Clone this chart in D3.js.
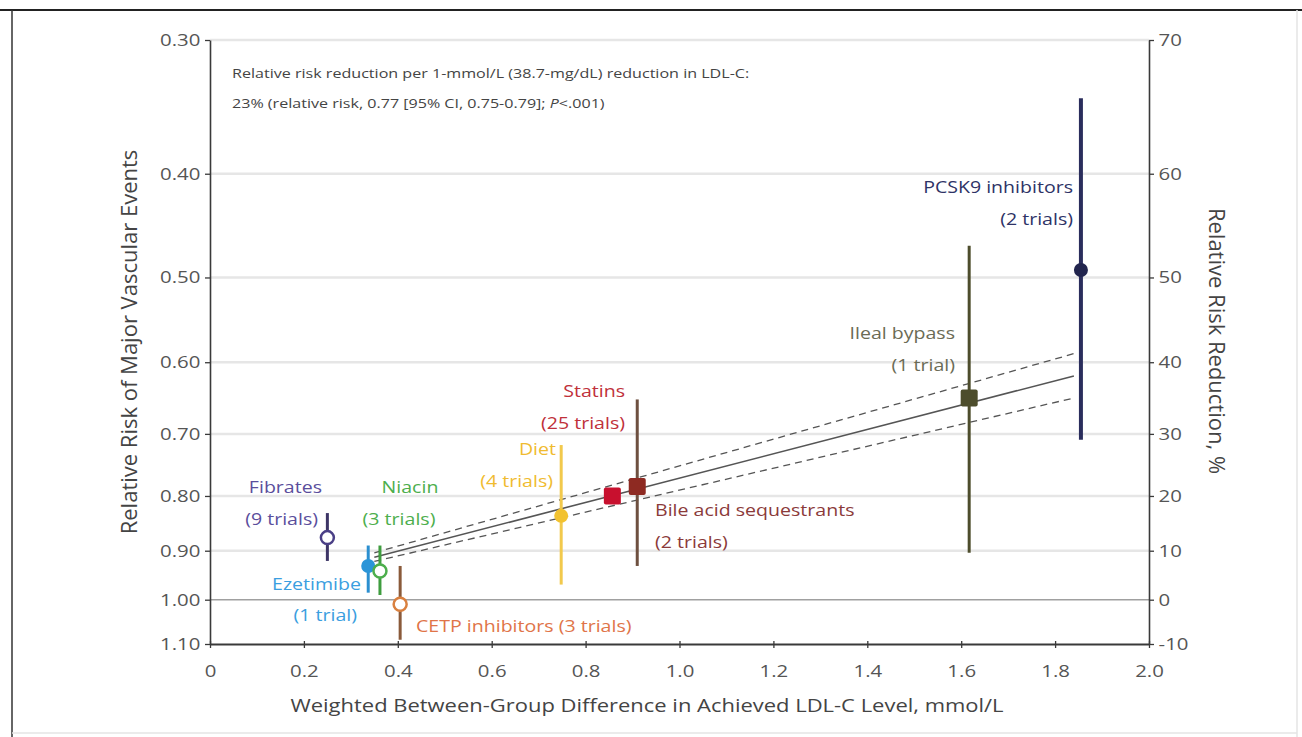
<!DOCTYPE html>
<html><head><meta charset="utf-8">
<script src="https://cdn.jsdelivr.net/npm/d3@7"></script>
<style>
html,body{margin:0;padding:0;background:#fff;}
svg{display:block;font-family:"Open Sans","DejaVu Sans",sans-serif;}
</style></head>
<body>
<svg id="c" width="1302" height="737"></svg>
<script>
// ---- data ----
const groups = ["Fibrates","Ezetimibe","Niacin","CETP inhibitors","Diet","Statins","Bile acid sequestrants","Ileal bypass","PCSK9 inhibitors"];
const ldlDiff = [0.25, 0.337, 0.362, 0.405, 0.748, 0.857, 0.91, 1.617, 1.855];
const rr      = [0.875, 0.93, 0.94, 1.01, 0.835, 0.80, 0.784, 0.648, 0.492];
const rrLow   = [0.83, 0.89, 0.89, 0.93, 0.717, 0.79, 0.65, 0.467, 0.34];
const rrHigh  = [0.92, 0.985, 0.99, 1.09, 0.968, 0.81, 0.93, 0.904, 0.709];
const markerShape = ["open","circle","open","open","circle","square","square","square","circle"];
const yTicks = [0.30,0.40,0.50,0.60,0.70,0.80,0.90,1.00,1.10];
const yTickLabels = ["0.30","0.40","0.50","0.60","0.70","0.80","0.90","1.00","1.10"];
const rrrTickLabels = ["70","60","50","40","30","20","10","0","-10"];
const xTicks = [0,0.2,0.4,0.6,0.8,1.0,1.2,1.4,1.6,1.8,2.0];
const xTickLabels = ["0","0.2","0.4","0.6","0.8","1.0","1.2","1.4","1.6","1.8","2.0"];
// regression line (RR 0.77 per mmol/L) and 95% CI (0.75, 0.79): endpoints
const regX = [0.35, 1.84];
const regFit = [0.9126, 0.618];
const regLow = [0.904, 0.589];
const regHigh = [0.921, 0.648];

// ---- styles ----
const markColor = ["#4a3f86","#2b95d8","#4cae4c","#d9803f","#f2c230","#c8102e","#8e2a22","#4d4d2c","#22254e"];
const lineColor = ["#3d3566","#2b8fd0","#3f9d3f","#8a5a3a","#f2c94c","#6e4a3a","#6e5040","#4d4d2c","#2a2d5c"];
const textColor = ["#5a4e9c","#3a9ee0","#4cae4c","#e07448","#f0bb30","#c0303a","#8b3a3a","#6b6b55","#2e3366"];
const SX = 1.2; // horizontal text stretch

const svg = d3.select("#c");
const x0 = 210, x1 = 1149, yTop = 40, yBot = 644;
const x = d3.scaleLinear().domain([0,2]).range([x0,x1]);
const y = d3.scaleLog().domain([1.1,0.3]).range([yBot,yTop]);

function htext(parent, px, py, str, size, fill, anchor){
  return parent.append("text").attr("transform",`translate(${px},${py}) scale(${SX},1)`)
    .attr("text-anchor",anchor||"start").attr("font-size",size).attr("fill",fill).text(str);
}

// outer frame
svg.append("line").attr("x1",0).attr("x2",1302).attr("y1",10).attr("y2",10).attr("stroke","#222").attr("stroke-width",2);
svg.append("line").attr("x1",12).attr("x2",12).attr("y1",10).attr("y2",737).attr("stroke","#333").attr("stroke-width",1.5);
svg.append("line").attr("x1",1297).attr("x2",1297).attr("y1",10).attr("y2",737).attr("stroke","#e4e4e4").attr("stroke-width",1.5);
svg.append("line").attr("x1",12).attr("x2",1297).attr("y1",733).attr("y2",733).attr("stroke","#e4e4e4").attr("stroke-width",1.5);

// gridlines
svg.append("g").selectAll("line").data(yTicks.slice(0,8)).join("line")
  .attr("x1",x0).attr("x2",x1).attr("y1",d=>y(d)).attr("y2",d=>y(d))
  .attr("stroke",d=>d===1.0?"#a0a0a0":"#e6e6e6").attr("stroke-width",d=>d===1.0?1.6:2.5);

// axes
const fmtY = d=>yTickLabels[yTicks.indexOf(d)];
const fmtR = d=>rrrTickLabels[yTicks.indexOf(d)];
const fmtX = d=>xTickLabels[xTicks.indexOf(d)];
function styleAxis(g){
  g.select(".domain").attr("stroke","#3a3a3a").attr("stroke-width",1.6);
  g.selectAll(".tick line").attr("stroke","#3a3a3a").attr("stroke-width",1.3);
  g.selectAll(".tick text").attr("fill","#555").attr("font-size",17).attr("font-family","Open Sans, sans-serif");
}
const ya = svg.append("g").attr("transform",`translate(${x0},0)`)
  .call(d3.axisLeft(y).tickValues(yTicks).tickFormat(fmtY).tickSizeInner(5).tickSizeOuter(0).tickPadding(3))
  .call(styleAxis);
ya.selectAll(".tick text").attr("transform",`scale(${SX},1)`);
const ra = svg.append("g").attr("transform",`translate(${x1},0)`)
  .call(d3.axisRight(y).tickValues(yTicks).tickFormat(fmtR).tickSizeInner(5).tickSizeOuter(0).tickPadding(3))
  .call(styleAxis);
ra.selectAll(".tick text").attr("transform",`scale(${SX},1)`);
const xa = svg.append("g").attr("transform",`translate(0,${yBot})`)
  .call(d3.axisBottom(x).tickValues(xTicks).tickFormat(fmtX).tickSizeInner(4).tickSizeOuter(0).tickPadding(17))
  .call(styleAxis);
xa.selectAll(".tick line").attr("y1",-3);
xa.selectAll(".tick text").attr("transform",`scale(${SX},1)`);
xa.select(".domain").attr("stroke-width",2.2);

// axis titles
svg.append("text").attr("transform","translate(137,342) rotate(-90)").attr("text-anchor","middle")
  .attr("font-size",22).attr("fill","#444").text("Relative Risk of Major Vascular Events");
svg.append("text").attr("transform","translate(1209,341) rotate(90)").attr("text-anchor","middle")
  .attr("font-size",22).attr("fill","#444").text("Relative Risk Reduction, %");
htext(svg, 647, 712, "Weighted Between-Group Difference in Achieved LDL-C Level, mmol/L", 18.3, "#444", "middle");

// annotation
htext(svg, 232, 78, "Relative risk reduction per 1-mmol/L (38.7-mg/dL) reduction in LDL-C:", 13.4, "#444");
const t2 = svg.append("text").attr("transform",`translate(232,108) scale(${SX},1)`).attr("font-size",13.4).attr("fill","#444");
t2.append("tspan").text("23% (relative risk, 0.77 [95% CI, 0.75-0.79]; ");
t2.append("tspan").attr("font-style","italic").text("P");
t2.append("tspan").text("<.001)");

// regression lines
const regLine = d3.line().x(d=>x(d[0])).y(d=>y(d[1]));
[[regFit,null,1.6],[regLow,"7,5",1.3],[regHigh,"7,5",1.3]].forEach(([vals,dash,w])=>{
  svg.append("path").datum(regX.map((v,i)=>[v,vals[i]])).attr("d",regLine)
    .attr("fill","none").attr("stroke","#555").attr("stroke-width",w).attr("stroke-dasharray",dash);
});

// CI bars
const idx = d3.range(groups.length);
svg.append("g").selectAll("line").data(idx).join("line")
  .attr("x1",i=>x(ldlDiff[i])).attr("x2",i=>x(ldlDiff[i]))
  .attr("y1",i=>y(rrLow[i])).attr("y2",i=>y(rrHigh[i]))
  .attr("stroke",i=>lineColor[i]).attr("stroke-width",i=>i===8?4:3);

// markers
const mk = svg.append("g");
idx.forEach(i=>{
  const cx = x(ldlDiff[i]), cy = y(rr[i]);
  if(markerShape[i]==="square"){
    mk.append("rect").attr("x",cx-8.5).attr("y",cy-8.5).attr("width",17).attr("height",17).attr("rx",2)
      .attr("fill",markColor[i]);
  } else if(markerShape[i]==="open"){
    mk.append("circle").attr("cx",cx).attr("cy",cy).attr("r",6.5).attr("fill","#fff")
      .attr("stroke",markColor[i]).attr("stroke-width",2.5);
  } else {
    mk.append("circle").attr("cx",cx).attr("cy",cy).attr("r",7).attr("fill",markColor[i]);
  }
});

// labels
const labels = [
  {i:0, lines:["Fibrates","(9 trials)"], x:[322,318], y:[493,525], anchor:"end"},
  {i:1, lines:["Ezetimibe","(1 trial)"], x:[361,357], y:[590,621], anchor:"end"},
  {i:2, lines:["Niacin","(3 trials)"], x:[410,399], y:[493,525], anchor:"middle"},
  {i:3, lines:["CETP inhibitors (3 trials)"], x:[416], y:[632], anchor:"start"},
  {i:4, lines:["Diet","(4 trials)"], x:[556,553], y:[455,487], anchor:"end"},
  {i:5, lines:["Statins","(25 trials)"], x:[625,625], y:[397,429], anchor:"end"},
  {i:6, lines:["Bile acid sequestrants","(2 trials)"], x:[655,655], y:[516,548], anchor:"start"},
  {i:7, lines:["Ileal bypass","(1 trial)"], x:[955,955], y:[339,371], anchor:"end"},
  {i:8, lines:["PCSK9 inhibitors","(2 trials)"], x:[1073,1073], y:[193,225], anchor:"end"}
];
const lg = svg.append("g");
labels.forEach(l=>{
  l.lines.forEach((s,k)=>{ htext(lg, l.x[k], l.y[k], s, 16.3, textColor[l.i], l.anchor); });
});
</script>
</body></html>
